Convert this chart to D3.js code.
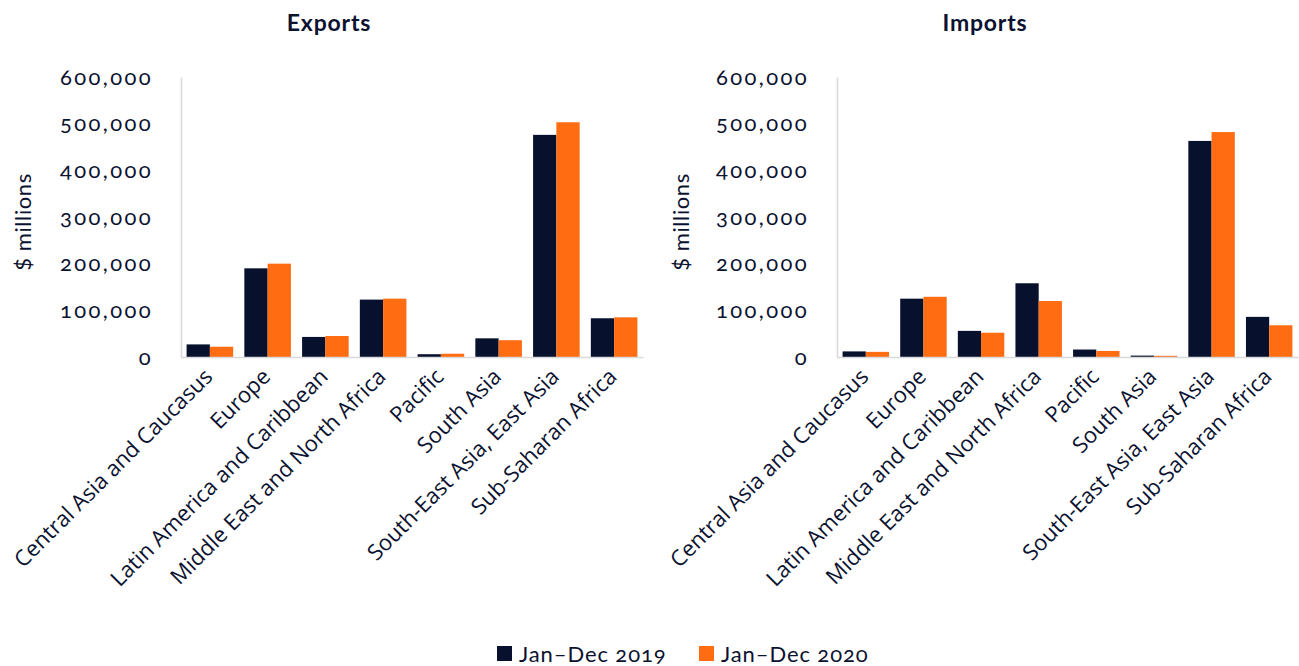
<!DOCTYPE html>
<html>
<head>
<meta charset="utf-8">
<script src="https://cdn.jsdelivr.net/npm/d3@7"></script>
<style>
  body { margin: 0; background: #fff; }
  svg { display: block; }
</style>
</head>
<body>
<svg id="chart" width="1299" height="666"></svg>
<script>
var regions = ["Central Asia and Caucasus", "Europe", "Latin America and Caribbean", "Middle East and North Africa", "Pacific", "South Asia", "South-East Asia, East Asia", "Sub-Saharan Africa"];
var seriesNames = ["Jan\u2013Dec 2019", "Jan\u2013Dec 2020"];
var exports2019 = [27000, 190000, 43000, 123000, 6000, 40000, 476000, 83000];
var exports2020 = [22000, 200000, 45000, 125000, 7000, 36000, 503000, 85000];
var imports2019 = [12000, 125000, 56000, 158000, 16000, 3000, 463000, 86000];
var imports2020 = [11000, 129000, 52000, 120000, 13000, 2500, 482000, 68000];
var yTicks = [0, 100000, 200000, 300000, 400000, 500000, 600000];

var colors = ["#07102d", "#ff6c12"];
var ink = "#0b1230";

const svg = d3.select("#chart");

function panel(title, v2019, v2020, left, right, titleX, ytitleX) {
  const g = svg.append("g");
  const top = 77, bottom = 357;

  const y = d3.scaleLinear().domain([0, 600000]).range([bottom, top]);
  const x0 = d3.scaleBand().domain(regions).range([left, right]).padding(0);
  const x1 = d3.scaleBand().domain(seriesNames).range([0, x0.bandwidth()]).paddingInner(0).paddingOuter(0.24);

  g.append("text")
    .attr("x", titleX)
    .attr("y", 31)
    .attr("text-anchor", "middle")
    .style("font-family", "Lato, sans-serif")
    .style("font-weight", "bold")
    .style("font-size", "23px")
    .style("letter-spacing", "0.8px")
    .attr("fill", ink)
    .text(title);

  // bars
  let rows = regions.map((r, i) => ({ region: r, vals: [v2019[i], v2020[i]] }));
  g.selectAll("g.grp")
    .data(rows)
    .enter()
    .append("g")
    .attr("class", "grp")
    .attr("transform", d => "translate(" + x0(d.region) + ",0)")
    .selectAll("rect")
    .data(d => d.vals.map((v, j) => ({ s: seriesNames[j], v: v, j: j })))
    .enter()
    .append("rect")
    .attr("x", d => x1(d.s))
    .attr("width", x1.bandwidth())
    .attr("y", d => y(d.v))
    .attr("height", d => bottom - y(d.v))
    .attr("fill", d => colors[d.j]);

  // y axis
  const yAxis = g.append("g")
    .attr("transform", "translate(" + left + ",0)")
    .call(d3.axisLeft(y).tickValues(yTicks).tickFormat(d3.format(",")).tickSize(0).tickPadding(28));
  yAxis.select(".domain").attr("stroke", "#d9d9d9").attr("stroke-width", 1.5);
  yAxis.selectAll("text")
    .style("font-family", "Lato, sans-serif")
    .style("font-feature-settings", "'onum'")
    .style("font-size", "22px")
    .style("letter-spacing", "2.4px")
    .attr("fill", ink);

  // x axis
  const xAxis = g.append("g")
    .attr("transform", "translate(0," + bottom + ")")
    .call(d3.axisBottom(x0).tickSize(0).tickPadding(0));
  xAxis.select(".domain").attr("stroke", "#d9d9d9").attr("stroke-width", 1.5);
  xAxis.selectAll("text")
    .style("font-family", "'Open Sans', sans-serif")
    .style("font-size", "22px")
    .attr("fill", ink)
    .attr("text-anchor", "end")
    .attr("dy", null)
    .attr("y", 0)
    .attr("transform", "translate(4,21) rotate(-45)");

  g.append("text")
    .attr("transform", "translate(" + ytitleX + "," + ((top + bottom) / 2 + 5) + ") rotate(-90)")
    .attr("text-anchor", "middle")
    .attr("dy", "0.35em")
    .style("font-family", "Lato, sans-serif")
    .style("font-size", "22px")
    .style("letter-spacing", "0.6px")
    .attr("fill", ink)
    .text("$ millions");
}

panel("Exports", exports2019, exports2020, 181, 643, 329, 23);
panel("Imports", imports2019, imports2020, 837, 1298, 985, 681);

// legend
const legend = svg.append("g").attr("transform", "translate(497,646)");
const items = [{ name: seriesNames[0], x: 0 }, { name: seriesNames[1], x: 202 }];
items.forEach((it, i) => {
  legend.append("rect")
    .attr("x", it.x)
    .attr("y", 0)
    .attr("width", 15)
    .attr("height", 15)
    .attr("fill", colors[i]);
  legend.append("text")
    .attr("x", it.x + 22)
    .attr("y", 16)
    .style("font-family", "Lato, sans-serif")
    .style("font-feature-settings", "'onum'")
    .style("font-size", "22px")
    .style("letter-spacing", "0.9px")
    .attr("fill", ink)
    .text(it.name);
});
</script>
</body>
</html>
